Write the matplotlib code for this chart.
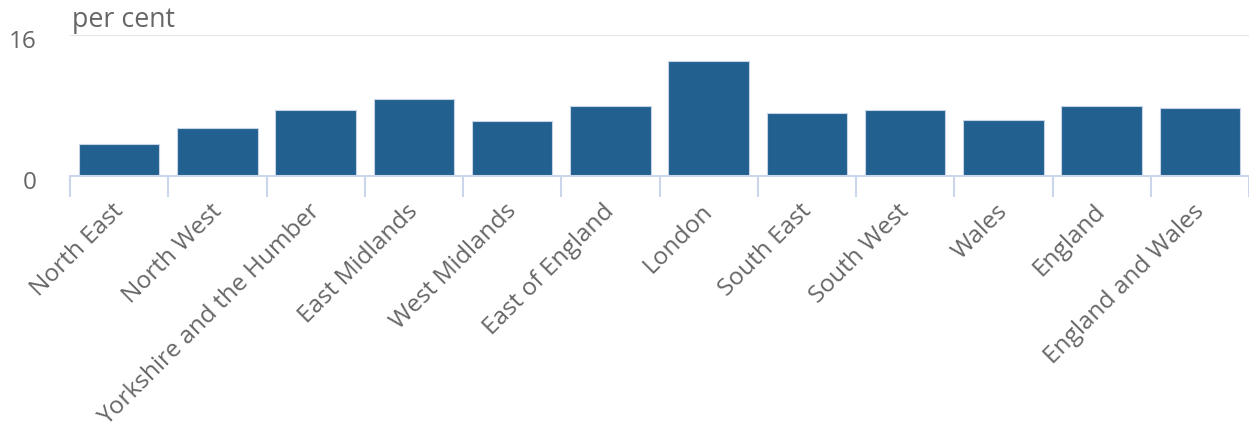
import matplotlib.pyplot as plt
import matplotlib.transforms as mtrans
import numpy as np

regions = [
    "North East",
    "North West",
    "Yorkshire and the Humber",
    "East Midlands",
    "West Midlands",
    "East of England",
    "London",
    "South East",
    "South West",
    "Wales",
    "England",
    "England and Wales",
]
rate = [3.6, 5.4, 7.5, 8.7, 6.2, 7.9, 13.1, 7.2, 7.5, 6.4, 7.9, 7.7]
y_ticks = [0, 16]

text_col = "#666666"
axis_col = "#ccd6eb"
bar_col = "#21608f"

plt.rcParams["font.family"] = ["Open Sans", "DejaVu Sans"]

dpi = 100
fig = plt.figure(figsize=(1249 / dpi, 430 / dpi), dpi=dpi)
ax = fig.add_axes([70 / 1249, 1 - 176 / 430, 1179 / 1249, 141 / 430])

x = np.arange(len(regions))
ax.bar(x, rate, width=0.82, color=bar_col, edgecolor="#c8d4e6", linewidth=0.8, zorder=3)

ax.set_xlim(-0.5, len(regions) - 0.5)
ax.set_ylim(0, 16)

for side in ["top", "right", "left"]:
    ax.spines[side].set_visible(False)
ax.spines["bottom"].set_color(axis_col)
ax.spines["bottom"].set_linewidth(1.5)
ax.spines["bottom"].set_zorder(4)

# gridline only at the top value
ax.axhline(16, color="#e6e6e6", linewidth=1.5, zorder=1)

# ticks sit on category boundaries, labels sit at category centres
ax.set_xticks(np.arange(len(regions) + 1) - 0.5)
ax.set_xticklabels([])
ax.tick_params(axis="x", length=15, width=1.5, color=axis_col, direction="out")
for i, name in enumerate(regions):
    ax.annotate(
        name,
        xy=(i, 0),
        xycoords=("data", "axes fraction"),
        xytext=(0.5, -23),
        textcoords="offset points",
        rotation=45,
        rotation_mode="anchor",
        ha="right",
        va="center",
        fontsize=17.6,
        color=text_col,
    )

ax.set_yticks(y_ticks)
ax.set_yticklabels([str(v) for v in y_ticks])
ax.tick_params(axis="y", length=0, pad=24, labelsize=17.5, labelcolor=text_col)
shift = mtrans.ScaledTranslation(0, -3 / 72, fig.dpi_scale_trans)
for lab in ax.get_yticklabels():
    lab.set_transform(lab.get_transform() + shift)

fig.text(72 / 1249, 1 - 20 / 430, "per cent", fontsize=19.3, color=text_col,
         ha="left", va="center")

fig.savefig("out.png", dpi=dpi, facecolor="white")
